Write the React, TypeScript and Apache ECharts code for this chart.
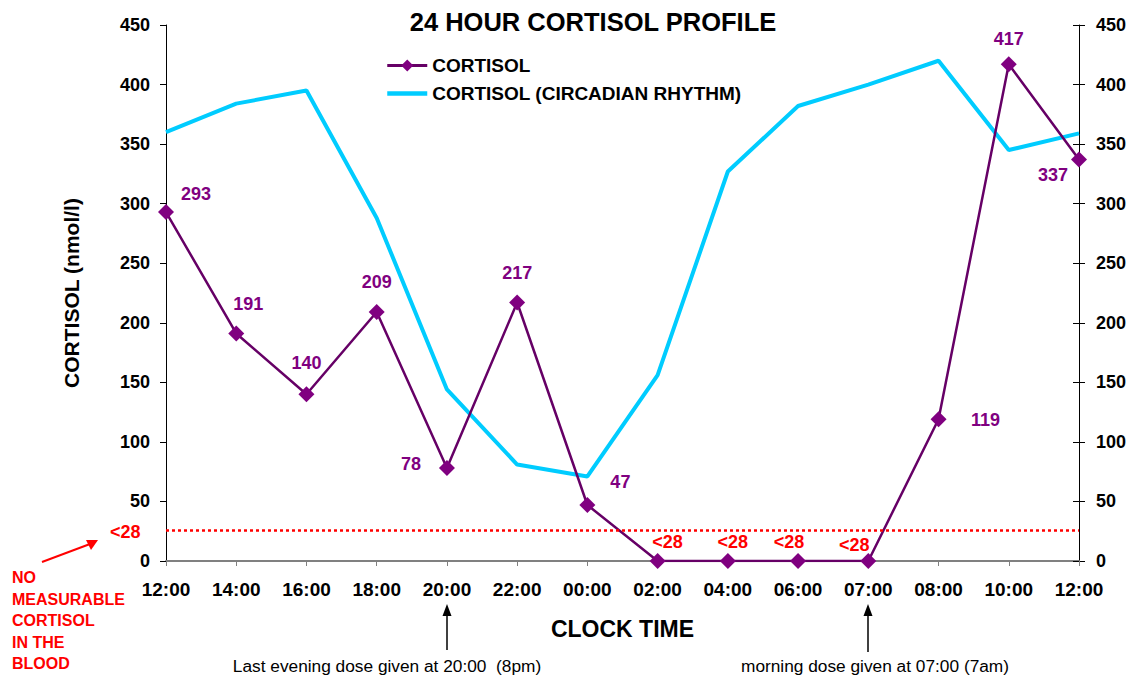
import React, { useEffect, useRef } from 'react';
import * as echarts from 'echarts';

const categories = ['12:00', '14:00', '16:00', '18:00', '20:00', '22:00', '00:00', '02:00', '04:00', '06:00', '07:00', '08:00', '10:00', '12:00'];
const cortisol = [293, 191, 140, 209, 78, 217, 47, 0, 0, 0, 0, 119, 417, 337];
const circadian = [360, 384, 395, 288, 144, 81, 71, 156, 327, 382, 400, 420, 345, 359];
const yTicks = [0, 50, 100, 150, 200, 250, 300, 350, 400, 450];
const detectionLimit = 26;
const belowLimitLabel = '<28';

// label placement (style only): offset of each value label from its point
const labelOffsets: [number, number][] = [
  [30, -18], [12, -29], [0, -31], [0, -30], [-36, -4], [0, -30], [33, -23],
  [10, -19], [5, -19], [-9, -19], [-14, -16], [47, 1], [0, -25], [-26, 15],
];

const FONT = 'Liberation Sans, Arial, sans-serif';

export default function App() {
  const ref = useRef<HTMLDivElement>(null);
  useEffect(() => {
    if (!ref.current) return;
    const chart = echarts.init(ref.current, undefined, { renderer: 'svg' });
    const purple = '#800080';
    const cortisolData = cortisol.map((v, i) => ({
      value: v,
      label: {
        show: true,
        position: 'inside',
        offset: labelOffsets[i],
        formatter: v === 0 ? belowLimitLabel : String(v),
        color: v === 0 ? '#ff0000' : purple,
        fontWeight: 'bold',
        fontSize: 18,
        fontFamily: FONT,
      },
    }));
    chart.setOption({
      animation: false,
      textStyle: { fontFamily: FONT },
      title: {
        text: '24 HOUR CORTISOL PROFILE',
        left: 588,
        textAlign: 'center',
        top: 4,
        textStyle: { fontSize: 25.5, fontWeight: 'bold', color: '#000', fontFamily: FONT },
      },
      legend: {
        orient: 'vertical',
        left: 380,
        top: 51,
        itemWidth: 40,
        itemHeight: 15,
        itemGap: 9,
        data: [
          { name: 'CORTISOL', lineStyle: { width: 3 } },
          { name: 'CORTISOL (CIRCADIAN RHYTHM)', itemStyle: { opacity: 0 }, lineStyle: { width: 4.5 } },
        ],
        textStyle: { fontSize: 19, fontWeight: 'bold', color: '#000', fontFamily: FONT },
      },
      grid: { left: 166, right: 53, top: 25, bottom: 118 },
      xAxis: {
        type: 'category',
        data: categories,
        boundaryGap: false,
        name: 'CLOCK TIME',
        nameLocation: 'middle',
        nameGap: 56,
        nameTextStyle: { fontSize: 23, fontWeight: 'bold', color: '#000', fontFamily: FONT },
        axisLine: { lineStyle: { color: '#808080', width: 2 } },
        axisTick: { show: true, length: 5, alignWithLabel: true, lineStyle: { color: '#808080' } },
        axisLabel: { fontSize: 19, fontWeight: 'bold', color: '#000', margin: 19, fontFamily: FONT, interval: 0 },
        splitLine: { show: false },
      },
      yAxis: [
        {
          type: 'value',
          min: yTicks[0],
          max: yTicks[yTicks.length - 1],
          interval: 50,
          position: 'left',
          name: 'CORTISOL (nmol/l)',
          nameLocation: 'middle',
          nameGap: 84,
          nameRotate: 90,
          nameTextStyle: { fontSize: 21, fontWeight: 'bold', color: '#000', fontFamily: FONT },
          axisLine: { show: true, lineStyle: { color: '#000', width: 1 } },
          axisTick: { show: true, length: 6, lineStyle: { color: '#000' } },
          axisLabel: { fontSize: 18, fontWeight: 'bold', color: '#000', margin: 16, fontFamily: FONT },
          splitLine: { show: false },
        },
        {
          type: 'value',
          min: yTicks[0],
          max: yTicks[yTicks.length - 1],
          interval: 50,
          position: 'right',
          axisLine: { show: true, lineStyle: { color: '#000', width: 1 } },
          axisTick: { show: true, length: 6, lineStyle: { color: '#000' } },
          axisLabel: { fontSize: 18, fontWeight: 'bold', color: '#000', margin: 17, fontFamily: FONT },
          splitLine: { show: false },
        },
        {
          type: 'value',
          min: yTicks[0],
          max: yTicks[yTicks.length - 1],
          interval: 50,
          position: 'right',
          axisLine: { show: false },
          axisTick: { show: true, inside: true, length: 6, lineStyle: { color: '#000' } },
          axisLabel: { show: false },
          splitLine: { show: false },
        },
      ],
      series: [
        {
          name: 'CORTISOL (CIRCADIAN RHYTHM)',
          type: 'line',
          data: circadian,
          symbol: 'none',
          lineStyle: { color: '#00ccff', width: 4 },
          itemStyle: { color: '#00ccff' },
          z: 2,
          markLine: {
            silent: true,
            symbol: 'none',
            label: { show: false },
            lineStyle: { color: '#ff0000', type: [3, 3], width: 2.5 },
            data: [{ yAxis: detectionLimit }],
          },
        },
        {
          name: 'CORTISOL',
          type: 'line',
          data: cortisolData,
          symbol: 'diamond',
          symbolSize: 16,
          lineStyle: { color: '#660066', width: 2.5 },
          itemStyle: { color: purple },
          z: 3,
        },
      ],
      graphic: [
        {
          type: 'text', left: 110, top: 523,
          style: { text: belowLimitLabel, fill: '#ff0000', font: `bold 18px ${FONT}` },
        },
        {
          type: 'line',
          shape: { x1: 42, y1: 562, x2: 90, y2: 544 },
          style: { stroke: '#ff0000', lineWidth: 2 },
        },
        {
          type: 'polygon',
          shape: { points: [[98, 540], [86, 540], [91, 550]] },
          style: { fill: '#ff0000' },
        },
        {
          type: 'text', left: 12, top: 567,
          style: {
            text: 'NO\nMEASURABLE\nCORTISOL\nIN THE\nBLOOD',
            fill: '#ff0000',
            font: `bold 16px ${FONT}`,
            lineHeight: 21.5,
          },
        },
        {
          type: 'line',
          shape: { x1: 447, y1: 650, x2: 447, y2: 612 },
          style: { stroke: '#000', lineWidth: 1.5 },
        },
        {
          type: 'polygon',
          shape: { points: [[447, 604], [442.5, 616], [451.5, 616]] },
          style: { fill: '#000' },
        },
        {
          type: 'text', x: 387, y: 666,
          style: {
            text: 'Last evening dose given at 20:00  (8pm)',
            fill: '#000', font: `17.3px ${FONT}`, align: 'center', verticalAlign: 'middle',
          },
        },
        {
          type: 'line',
          shape: { x1: 868, y1: 652, x2: 868, y2: 612 },
          style: { stroke: '#000', lineWidth: 1.5 },
        },
        {
          type: 'polygon',
          shape: { points: [[868, 604], [863.5, 616], [872.5, 616]] },
          style: { fill: '#000' },
        },
        {
          type: 'text', x: 875, y: 666,
          style: {
            text: 'morning dose given at 07:00 (7am)',
            fill: '#000', font: `17.3px ${FONT}`, align: 'center', verticalAlign: 'middle',
          },
        },
      ],
    });
    return () => chart.dispose();
  }, []);
  return <div ref={ref} style={{ width: 1132, height: 679, position: 'absolute', left: 0, top: 0 }} />;
}
